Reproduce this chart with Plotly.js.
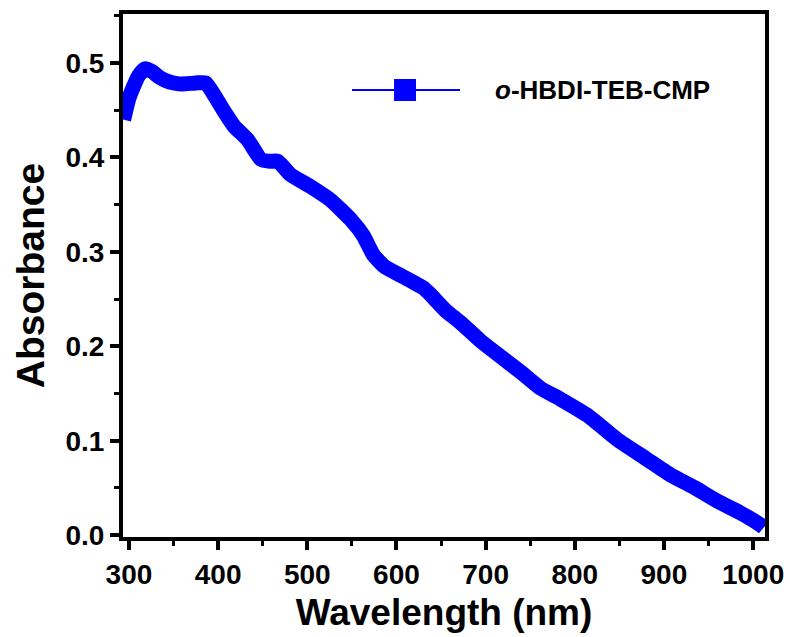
<!DOCTYPE html>
<html>
<head>
<meta charset="utf-8">
<script src="https://cdn.plot.ly/plotly-3.0.1.min.js"></script>
<style>html,body{margin:0;padding:0;background:#fff;}#chart{width:790px;height:637px;}</style>
</head>
<body>
<div id="chart"></div>
<script>
// Wavelength (nm)
var wavelength = [294, 300, 305, 311, 318, 326, 334, 345, 356, 364, 375, 386, 397, 408, 418, 433, 448, 458, 467, 481, 504, 526, 549, 563, 574, 586, 605, 630, 638, 655, 672, 694, 717, 739, 761, 784, 814, 848, 880, 907, 935, 960, 985, 1008, 1012];
// Absorbance
var absorbance = [0.440, 0.463, 0.475, 0.487, 0.494, 0.491, 0.485, 0.480, 0.478, 0.478, 0.479, 0.479, 0.464, 0.447, 0.433, 0.419, 0.398, 0.396, 0.396, 0.382, 0.369, 0.355, 0.334, 0.317, 0.297, 0.285, 0.275, 0.262, 0.255, 0.238, 0.225, 0.206, 0.189, 0.173, 0.156, 0.144, 0.127, 0.101, 0.081, 0.064, 0.050, 0.036, 0.024, 0.011, 0.008];
var seriesName = '<b><i>o</i>-HBDI-TEB-CMP</b>';
var xTitle = 'Wavelength (nm)';
var yTitle = 'Absorbance';

var blue = '#0000FF';
var trace = {
  x: wavelength, y: absorbance, type: 'scatter', mode: 'lines',
  line: {color: blue, width: 15, shape: 'spline', smoothing: 0.5},
  showlegend: false, hoverinfo: 'skip'
};

var axisCommon = {
  showline: true, linewidth: 4, linecolor: '#000', mirror: true,
  ticks: 'outside', ticklen: 9, tickwidth: 4, tickcolor: '#000',
  showgrid: false, zeroline: false,
  tickfont: {family: 'Liberation Sans, Arial, sans-serif', size: 28, color: '#000', weight: 'bold'},
  minor: {ticks: 'outside', ticklen: 5, tickwidth: 3, tickcolor: '#000', showgrid: false}
};

var layout = {
  width: 790, height: 637,
  margin: {l: 123, r: 25, t: 14, b: 100},
  paper_bgcolor: '#fff', plot_bgcolor: '#fff',
  font: {family: 'Liberation Sans, Arial, sans-serif', color: '#000'},
  xaxis: Object.assign({}, axisCommon, {
    range: [293.3, 1013.4], tickmode: 'linear', tick0: 300, dtick: 100,
    minor: Object.assign({}, axisCommon.minor, {dtick: 50, tick0: 300}),
    title: {text: '<b>' + xTitle + '</b>', font: {size: 37, family: 'Liberation Sans, Arial, sans-serif', color: '#000'}, standoff: 12}
  }),
  yaxis: Object.assign({}, axisCommon, {
    range: [-0.002, 0.552], tickmode: 'linear', tick0: 0, dtick: 0.1, tickformat: '.1f',
    minor: Object.assign({}, axisCommon.minor, {dtick: 0.05, tick0: 0}),
    title: {text: '<b>' + yTitle + '</b>', font: {size: 39, family: 'Liberation Sans, Arial, sans-serif', color: '#000'}, standoff: 10}
  }),
  shapes: [
    {type: 'line', xref: 'paper', yref: 'paper', x0: 0.3567, x1: 0.525, y0: 0.8547, y1: 0.8547, line: {color: blue, width: 2}},
    {type: 'rect', xref: 'paper', yref: 'paper', xsizemode: 'pixel', ysizemode: 'pixel',
     xanchor: 0.4393, yanchor: 0.8547, x0: -11, x1: 11, y0: -11, y1: 11,
     fillcolor: blue, line: {color: blue, width: 0}}
  ],
  annotations: [
    {xref: 'paper', yref: 'paper', x: 0.5763, y: 0.8547, xanchor: 'left', yanchor: 'middle',
     text: seriesName, showarrow: false, font: {size: 26, family: 'Liberation Sans, Arial, sans-serif', color: '#000'}}
  ]
};

Plotly.newPlot('chart', [trace], layout, {displayModeBar: false, staticPlot: true});
</script>
</body>
</html>
